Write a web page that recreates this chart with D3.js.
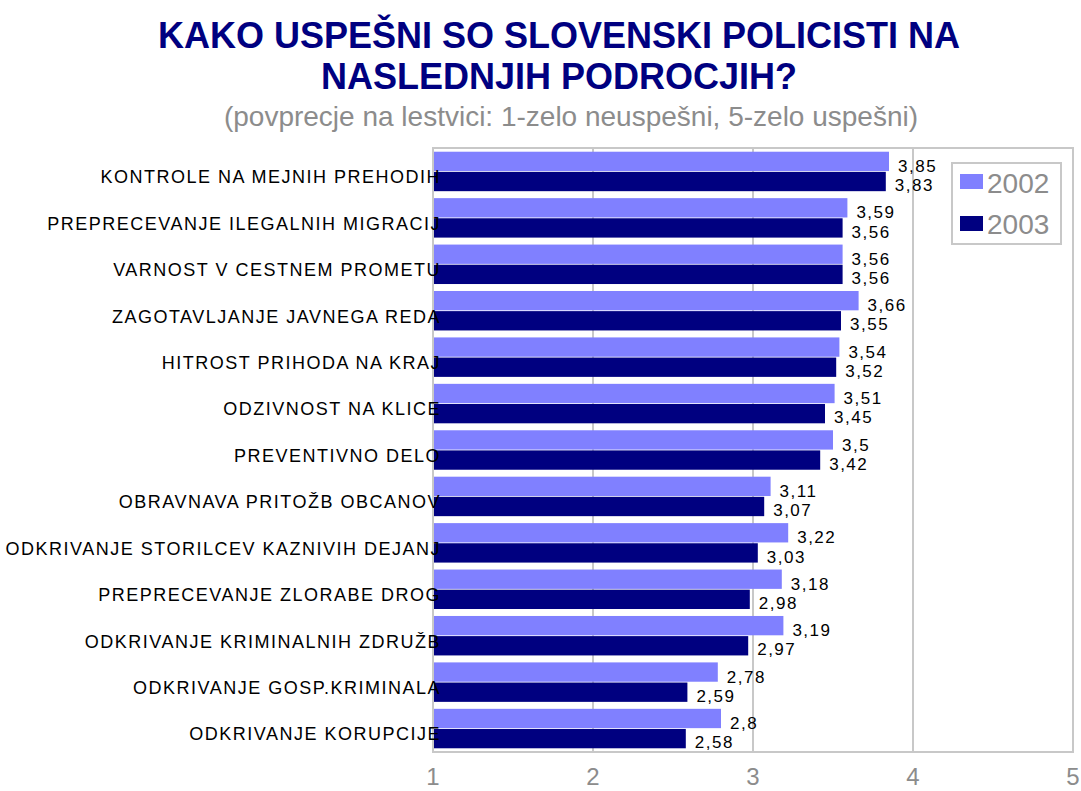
<!DOCTYPE html>
<html>
<head>
<meta charset="utf-8">
<script src="https://cdn.jsdelivr.net/npm/d3@7"></script>
<style>
  body { margin: 0; background: #fff; }
  svg { display: block; font-family: "Liberation Sans", Arial, sans-serif; }
</style>
</head>
<body>
<div class="js-container"></div>
<script>
(function() {
  'use strict';

  var categories = [
    'KONTROLE NA MEJNIH PREHODIH',
    'PREPRECEVANJE ILEGALNIH MIGRACIJ',
    'VARNOST V CESTNEM PROMETU',
    'ZAGOTAVLJANJE JAVNEGA REDA',
    'HITROST PRIHODA NA KRAJ',
    'ODZIVNOST NA KLICE',
    'PREVENTIVNO DELO',
    'OBRAVNAVA PRITOŽB OBCANOV',
    'ODKRIVANJE STORILCEV KAZNIVIH DEJANJ',
    'PREPRECEVANJE ZLORABE DROG',
    'ODKRIVANJE KRIMINALNIH ZDRUŽB',
    'ODKRIVANJE GOSP.KRIMINALA',
    'ODKRIVANJE KORUPCIJE'
  ];

  var values2002 = [3.85, 3.59, 3.56, 3.66, 3.54, 3.51, 3.5, 3.11, 3.22, 3.18, 3.19, 2.78, 2.8];
  var values2003 = [3.83, 3.56, 3.56, 3.55, 3.52, 3.45, 3.42, 3.07, 3.03, 2.98, 2.97, 2.59, 2.58];

  var seriesNames = ['2002', '2003'];
  var seriesColors = ['#8080ff', '#000080'];
  var xTicks = [1, 2, 3, 4, 5];

  var width = 1081, height = 791;
  var left = 433, right = 1073, top = 148, bottom = 752;

  var svg = d3.select('.js-container').append('svg')
      .attr('width', width)
      .attr('height', height);

  // title, two lines + grey subtitle
  svg.append('text')
      .attr('x', 559).attr('y', 48)
      .attr('text-anchor', 'middle')
      .attr('font-size', 36).attr('font-weight', 'bold')
      .attr('fill', '#000080')
      .text('KAKO USPEŠNI SO SLOVENSKI POLICISTI NA');
  svg.append('text')
      .attr('x', 559).attr('y', 89)
      .attr('text-anchor', 'middle')
      .attr('font-size', 36).attr('font-weight', 'bold')
      .attr('fill', '#000080')
      .text('NASLEDNJIH PODROCJIH?');
  svg.append('text')
      .attr('x', 571).attr('y', 126)
      .attr('text-anchor', 'middle')
      .attr('font-size', 28)
      .attr('fill', '#8c8c8c')
      .text('(povprecje na lestvici: 1-zelo neuspešni, 5-zelo uspešni)');

  var x = d3.scaleLinear().domain([1, 5]).range([left, right]);
  var y = d3.scaleBand().domain(categories).range([top, bottom]).paddingInner(0.15).paddingOuter(0.08);
  var sub = d3.scaleBand().domain(seriesNames).range([0, y.bandwidth()]).paddingInner(0.04);

  // grid + frame
  svg.append('g').selectAll('line')
      .data(xTicks)
      .join('line')
      .attr('x1', function(d) { return x(d); })
      .attr('x2', function(d) { return x(d); })
      .attr('y1', top).attr('y2', bottom)
      .attr('stroke', '#c8c8c8').attr('stroke-width', 2);
  svg.append('rect')
      .attr('x', left).attr('y', top)
      .attr('width', right - left).attr('height', bottom - top)
      .attr('fill', 'none').attr('stroke', '#c8c8c8').attr('stroke-width', 2);

  var series = [values2002, values2003];
  series.forEach(function(vals, s) {
    var g = svg.append('g');
    g.selectAll('rect')
        .data(vals)
        .join('rect')
        .attr('x', x(1) + 1)
        .attr('y', function(d, i) { return y(categories[i]) + sub(seriesNames[s]); })
        .attr('width', function(d) { return x(d) - x(1) - 1; })
        .attr('height', sub.bandwidth())
        .attr('fill', seriesColors[s]);
    g.selectAll('text')
        .data(vals)
        .join('text')
        .attr('x', function(d) { return x(d) + 9; })
        .attr('y', function(d, i) { return y(categories[i]) + sub(seriesNames[s]) + sub.bandwidth() + (s === 0 ? 1 : 0); })
        .attr('font-size', 17).attr('letter-spacing', 1.5)
        .attr('fill', '#000')
        .text(function(d) { return String(d).replace('.', ','); });
  });

  // category labels (they run over the axis a bit, like the original)
  svg.append('g').selectAll('text')
      .data(categories)
      .join('text')
      .attr('x', 441)
      .attr('y', function(d) { return y(d) + sub('2003') + 11.5; })
      .attr('text-anchor', 'end')
      .attr('font-size', 18).attr('letter-spacing', 1.5)
      .attr('fill', '#000')
      .text(function(d) { return d; });

  // x axis labels
  svg.append('g').selectAll('text')
      .data(xTicks)
      .join('text')
      .attr('x', function(d) { return x(d); })
      .attr('y', 785)
      .attr('text-anchor', 'middle')
      .attr('font-size', 24)
      .attr('fill', '#8c8c8c')
      .text(function(d) { return d; });

  // legend
  var legend = svg.append('g');
  legend.append('rect')
      .attr('x', 952).attr('y', 163).attr('width', 109).attr('height', 81)
      .attr('fill', '#fff').attr('stroke', '#c8c8c8').attr('stroke-width', 2);
  seriesNames.forEach(function(name, i) {
    legend.append('rect')
        .attr('x', 960).attr('y', 174 + i * 42).attr('width', 23).attr('height', 15)
        .attr('fill', seriesColors[i]);
    legend.append('text')
        .attr('x', 987).attr('y', 193 + i * 41)
        .attr('font-size', 28)
        .attr('fill', '#8c8c8c')
        .text(name);
  });

}());
</script>
</body>
</html>
